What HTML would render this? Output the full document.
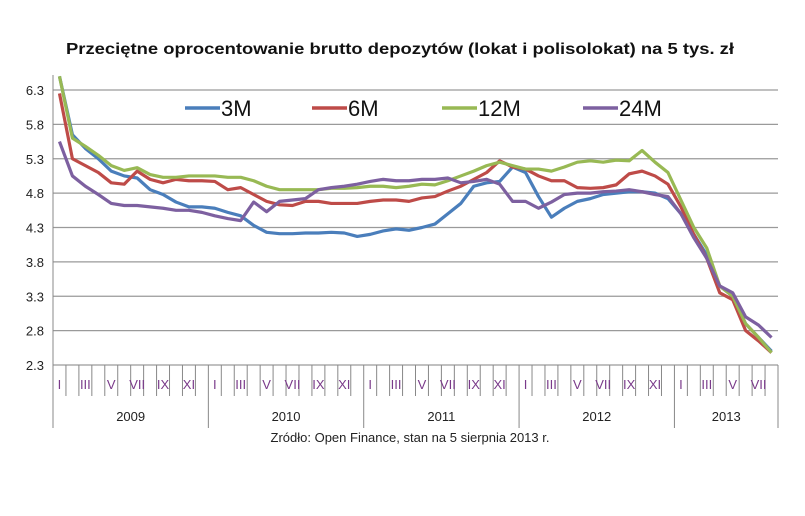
<!DOCTYPE html>
<html><head><meta charset="utf-8"><style>
body{margin:0;background:#fff;}
svg{display:block;font-family:"Liberation Sans",sans-serif;}
</style></head><body>
<svg id="c" width="805" height="516">
<text x="66" y="54" textLength="668" lengthAdjust="spacingAndGlyphs" font-size="16" font-weight="bold" fill="#111">Przeciętne oprocentowanie  brutto  depozytów (lokat  i  polisolokat) na 5 tys. zł</text>
<text x="410" y="442" text-anchor="middle" font-size="13" fill="#222">Zródło: Open Finance, stan na 5 sierpnia 2013 r.</text>
</svg>
<script>
const yTicks=[2.3,2.8,3.3,3.8,4.3,4.8,5.3,5.8,6.3];
const years=["2009","2010","2011","2012","2013"];
const months=["I","II","III","IV","V","VI","VII","VIII","IX","X","XI","XII"];
const s3M=[6.5,5.65,5.45,5.3,5.12,5.05,5.02,4.85,4.78,4.67,4.6,4.6,4.58,4.52,4.47,4.33,4.23,4.21,4.21,4.22,4.22,4.23,4.22,4.17,4.2,4.25,4.28,4.26,4.3,4.35,4.5,4.65,4.9,4.95,4.97,5.18,5.1,4.75,4.45,4.58,4.68,4.72,4.78,4.8,4.82,4.82,4.8,4.72,4.5,4.2,3.9,3.45,3.3,2.9,2.7,2.5];
const s6M=[6.25,5.3,5.2,5.1,4.95,4.93,5.12,5.0,4.95,5.0,4.98,4.98,4.97,4.85,4.88,4.78,4.68,4.63,4.62,4.68,4.68,4.65,4.65,4.65,4.68,4.7,4.7,4.68,4.73,4.75,4.83,4.9,5.0,5.1,5.27,5.18,5.15,5.05,4.98,4.98,4.88,4.87,4.88,4.92,5.08,5.12,5.05,4.93,4.6,4.2,3.85,3.35,3.25,2.8,2.65,2.48];
const s12M=[6.5,5.6,5.48,5.35,5.2,5.13,5.17,5.07,5.03,5.03,5.05,5.05,5.05,5.03,5.03,4.98,4.9,4.85,4.85,4.85,4.85,4.87,4.87,4.88,4.9,4.9,4.88,4.9,4.93,4.92,4.98,5.05,5.12,5.2,5.25,5.2,5.15,5.15,5.12,5.18,5.25,5.27,5.25,5.28,5.27,5.42,5.25,5.1,4.7,4.3,4.0,3.45,3.3,2.9,2.7,2.48];
const s24M=[5.55,5.05,4.9,4.78,4.65,4.62,4.62,4.6,4.58,4.55,4.55,4.52,4.47,4.43,4.4,4.67,4.53,4.68,4.7,4.72,4.85,4.88,4.9,4.93,4.97,5.0,4.98,4.98,5.0,5.0,5.02,4.95,4.97,5.0,4.93,4.68,4.68,4.58,4.67,4.78,4.8,4.8,4.82,4.83,4.85,4.82,4.78,4.75,4.5,4.15,3.85,3.45,3.35,3.0,2.88,2.7];
const seriesNames=["3M","6M","12M","24M"];
const NS="http://www.w3.org/2000/svg";
const svg=document.getElementById('c');
const L=53,R=778,N=56,slot=(R-L)/N;
const y=v=>90+(6.3-v)*68.75;
const x=i=>L+(i+0.5)*slot;
function mk(t,a,p){const e=document.createElementNS(NS,t);for(const k in a)e.setAttribute(k,a[k]);(p||svg).appendChild(e);return e;}
yTicks.forEach(v=>{
 const g=mk('line',{x1:L,x2:R,y1:y(v),y2:y(v),stroke:'#9a9a9a','stroke-width':1.3});
 
 
 const t=mk('text',{x:44,y:y(v)+5,'text-anchor':'end','font-size':13,fill:'#222'});
 t.textContent=v.toFixed(1);
 
 
});
const ax=mk('line',{x1:L,x2:L,y1:75,y2:428,stroke:'#888','stroke-width':1});


for(let i=1;i<=N;i++){
 const yr=i%12===0||i===N;
 const tk=mk('line',{x1:L+i*slot,x2:L+i*slot,y1:365,y2:yr?428:396,stroke:'#888','stroke-width':1});
 
 
}
for(let i=0;i<N;i+=2){
 const t=mk('text',{x:x(i),y:389,'text-anchor':'middle','font-size':13,fill:'#7a3a8a'});
 t.textContent=months[i%12];
 
 
}
years.forEach((yr,k)=>{
 const a=k*12,b=Math.min(N,a+12);
 const t=mk('text',{x:L+(a+b)/2*slot,y:421,'text-anchor':'middle','font-size':13,fill:'#222'});
 t.textContent=yr;
 
 
});
const data=[s3M,s6M,s12M,s24M];
const cols=["#4a7ebb","#be4b48","#98b954","#7d60a0"];
data.forEach((s,k)=>{
 const p=mk('polyline',{points:s.map((v,i)=>x(i)+','+y(v)).join(' '),fill:'none',stroke:cols[k],'stroke-width':3.2,'stroke-linejoin':'round'});
 
 
});
const lx=[185,312,442,583];
seriesNames.forEach((n,k)=>{
 const l=mk('line',{x1:lx[k],x2:lx[k]+35,y1:108,y2:108,stroke:cols[k],'stroke-width':3.5});
 
 
 const t=mk('text',{x:lx[k]+36,y:116,'font-size':22,fill:'#111'});
 t.textContent=n;
 
 
});
</script>
</body></html>
